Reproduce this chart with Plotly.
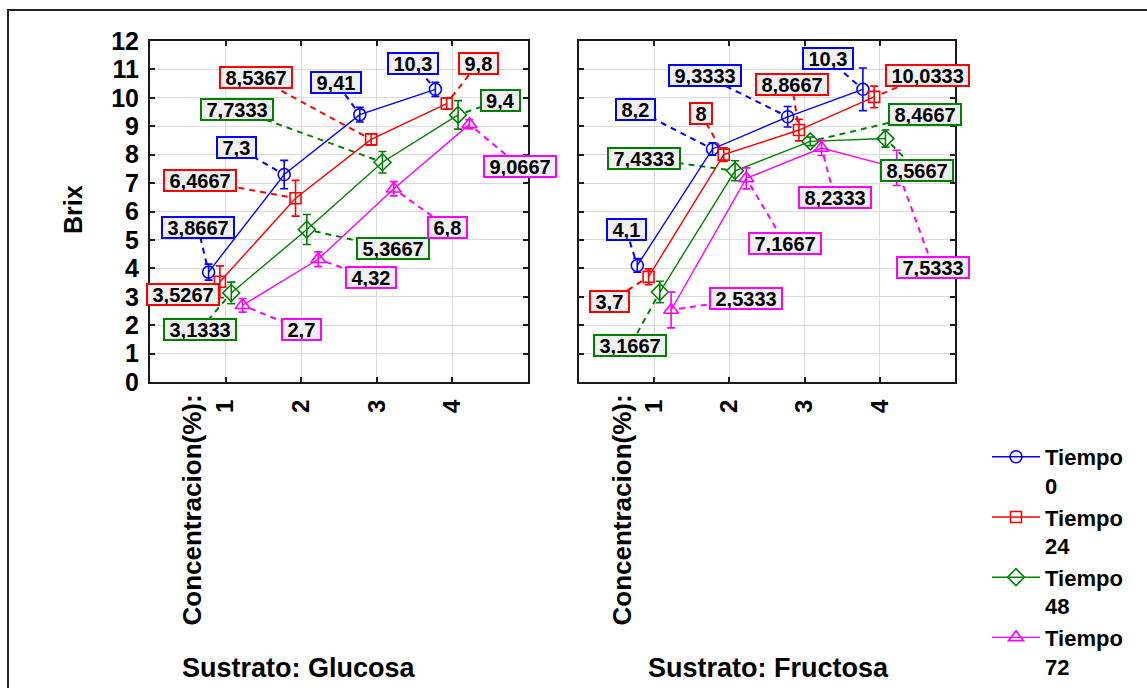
import plotly.graph_objects as go

# ---------------- data ----------------
concentraciones = [1, 2, 3, 4]
tick_labels = ["1", "2", "3", "4"]
series_names = ["Tiempo<br>0", "Tiempo<br>24", "Tiempo<br>48", "Tiempo<br>72"]

glucosa_t0 = [3.8667, 7.3, 9.41, 10.3]
glucosa_t24 = [3.5267, 6.4667, 8.5367, 9.8]
glucosa_t48 = [3.1333, 5.3667, 7.7333, 9.4]
glucosa_t72 = [2.7, 4.32, 6.8, 9.0667]

glucosa_err_t0 = [0.28, 0.50, 0.26, 0.25]
glucosa_err_t24 = [0.56, 0.63, 0.20, 0.20]
glucosa_err_t48 = [0.38, 0.53, 0.38, 0.50]
glucosa_err_t72 = [0.24, 0.26, 0.25, 0.16]

fructosa_t0 = [4.1, 8.2, 9.3333, 10.3]
fructosa_t24 = [3.7, 8.0, 8.8667, 10.0333]
fructosa_t48 = [3.1667, 7.4333, 8.4667, 8.5667]
fructosa_t72 = [2.5333, 7.1667, 8.2333, 7.5333]

fructosa_err_t0 = [0.24, 0.22, 0.36, 0.75]
fructosa_err_t24 = [0.28, 0.24, 0.38, 0.38]
fructosa_err_t48 = [0.38, 0.35, 0.15, 0.30]
fructosa_err_t72 = [0.63, 0.37, 0.26, 0.62]

# ---------------- styles / layout helpers ----------------
colors = ["#0000ff", "#ff0000", "#008000", "#ff00ff"]
symbols = ["circle-open", "square-open", "diamond-open", "triangle-up-open"]
msizes = [12, 11, 13, 13]
offsets = [-0.225, -0.075, 0.075, 0.225]

# label box centres (data coordinates of each panel) - layout only
glucosa_label_pos = [
    [(0.635, 5.44), (1.15, 8.26), (2.46, 10.55), (3.48, 11.22)],
    [(0.44, 3.07), (0.66, 7.09), (1.40, 10.73), (4.34, 11.22)],
    [(0.66, 1.84), (3.21, 4.69), (1.15, 9.60), (4.64, 9.92)],
    [(2.01, 1.84), (2.92, 3.67), (3.94, 5.44), (4.89, 7.59)],
]
fructosa_label_pos = [
    [(0.625, 5.37), (0.745, 9.60), (1.68, 10.77), (3.31, 11.37)],
    [(0.41, 2.82), (1.62, 9.46), (2.83, 10.48), (4.63, 10.80)],
    [(0.68, 1.27), (0.86, 7.87), (4.60, 9.42), (4.49, 7.45)],
    [(2.22, 2.93), (2.74, 4.87), (3.40, 6.49), (4.71, 4.02)],
]

FONT = "Liberation Sans, Arial, sans-serif"
W, H = 1147, 688
left_dom = [150 / W, 528 / W]
right_dom = [579 / W, 955 / W]
y_dom = [1 - 382 / H, 1 - 41 / H]
PX_X = 377 / 5.0
PX_Y = 341 / 12.0


def fmt(v):
    s = f"{v:.4f}".rstrip("0").rstrip(".")
    return s.replace(".", ",")


def text_width(s, size=20):
    w = 0
    for ch in s:
        w += 0.278 if ch == "," else 0.556
    return w * size


fig = go.Figure()

panels = [
    ("x", "y", [glucosa_t0, glucosa_t24, glucosa_t48, glucosa_t72],
     [glucosa_err_t0, glucosa_err_t24, glucosa_err_t48, glucosa_err_t72], glucosa_label_pos),
    ("x2", "y2", [fructosa_t0, fructosa_t24, fructosa_t48, fructosa_t72],
     [fructosa_err_t0, fructosa_err_t24, fructosa_err_t48, fructosa_err_t72], fructosa_label_pos),
]

annotations = []
for pi, (xa, ya, series, errs, lpos) in enumerate(panels):
    # leader lines
    for si in range(4):
        for ci, c in enumerate(concentraciones):
            px = c + offsets[si]
            py = series[si][ci]
            lx, ly = lpos[si][ci]
            dxp = (lx - px) * PX_X
            dyp = (ly - py) * PX_Y
            dist = (dxp ** 2 + dyp ** 2) ** 0.5
            f = min(8 / dist, 0.5) if dist > 0 else 0
            sx = px + (lx - px) * f
            sy = py + (ly - py) * f
            fig.add_trace(go.Scatter(
                x=[sx, lx], y=[sy, ly], mode="lines", xaxis=xa, yaxis=ya,
                line=dict(color=colors[si], width=2, dash="6px,5px"),
                showlegend=False, hoverinfo="skip"))
            txt = fmt(py)
            annotations.append(dict(
                x=lx, y=ly, xref=xa, yref=ya, text=txt, showarrow=False,
                font=dict(family=FONT, size=20, color="black", weight="bold"),
                bgcolor="#f0f0f0", bordercolor=colors[si], borderwidth=2,
                borderpad=0, width=text_width(txt) + 9, height=19,
                xanchor="center", yanchor="middle"))
    # series
    for si in range(4):
        fig.add_trace(go.Scatter(
            x=[c + offsets[si] for c in concentraciones], y=series[si],
            mode="lines+markers", xaxis=xa, yaxis=ya,
            name=series_names[si], legendgroup=str(si), showlegend=(pi == 0),
            line=dict(color=colors[si], width=1.4),
            marker=dict(symbol=symbols[si], size=msizes[si], color=colors[si],
                        line=dict(color=colors[si], width=1.6)),
            error_y=dict(type="data", array=errs[si], visible=True,
                         color=colors[si], thickness=1.6, width=4)))

axis_common = dict(
    showline=True, linecolor="#1a1a1a", linewidth=2, mirror="allticks",
    ticks="inside", ticklen=5, tickcolor="#1a1a1a", tickwidth=1.5,
    showgrid=True, gridcolor="#dcdcdc", gridwidth=1, zeroline=False,
    automargin=False,
)

fig.update_layout(
    width=W, height=H, margin=dict(l=0, r=0, t=0, b=0, autoexpand=False),
    paper_bgcolor="white", plot_bgcolor="white",
    xaxis=dict(domain=left_dom, range=[0, 5], tickvals=concentraciones, ticktext=tick_labels,
               tickangle=-90, tickfont=dict(family=FONT, size=24, color="black", weight="bold"),
               ticklabelstandoff=6, anchor="y", **axis_common),
    xaxis2=dict(domain=right_dom, range=[0, 5], tickvals=concentraciones, ticktext=tick_labels,
                tickangle=-90, tickfont=dict(family=FONT, size=24, color="black", weight="bold"),
                ticklabelstandoff=6, anchor="y2", **axis_common),
    yaxis=dict(domain=y_dom, range=[0, 12], dtick=1, anchor="x",
               tickfont=dict(family=FONT, size=25, color="black", weight="bold"),
               ticklabelstandoff=4, **axis_common),
    yaxis2=dict(domain=y_dom, range=[0, 12], dtick=1, anchor="x2", showticklabels=False,
                **axis_common),
    legend=dict(x=987 / W, y=1 - 436 / H, xanchor="left", yanchor="top", valign="top",
                font=dict(family=FONT, size=22, color="black", weight="bold"),
                itemwidth=48, bgcolor="rgba(0,0,0,0)", tracegroupgap=0),
    showlegend=True,
)

txt_font = dict(family=FONT, size=25, color="black", weight="bold")
rot_font = dict(family=FONT, size=26, color="black", weight="bold")
sub_font = dict(family=FONT, size=27, color="black", weight="bold")
annotations += [
    dict(text="Brix", x=73 / W, y=1 - 210 / H, xref="paper", yref="paper", textangle=-90,
         showarrow=False, font=txt_font, xanchor="center", yanchor="middle"),
    dict(text="Concentracion(%):", x=191 / W, y=1 - 393 / H, xref="paper", yref="paper",
         textangle=-90, showarrow=False, font=rot_font, xanchor="center", yanchor="top"),
    dict(text="Concentracion(%):", x=621 / W, y=1 - 393 / H, xref="paper", yref="paper",
         textangle=-90, showarrow=False, font=rot_font, xanchor="center", yanchor="top"),
    dict(text="Sustrato: Glucosa", x=299 / W, y=1 - 668 / H, xref="paper", yref="paper",
         showarrow=False, font=sub_font, xanchor="center", yanchor="middle"),
    dict(text="Sustrato: Fructosa", x=768 / W, y=1 - 668 / H, xref="paper", yref="paper",
         showarrow=False, font=sub_font, xanchor="center", yanchor="middle"),
]
fig.update_layout(annotations=annotations)

fig.add_shape(type="rect", xref="paper", yref="paper", x0=8 / W, y0=-0.05, x1=1.05,
              y1=1 - 10 / H, line=dict(color="#222222", width=2), fillcolor="rgba(0,0,0,0)",
              layer="below")

fig.write_html("out.html")
